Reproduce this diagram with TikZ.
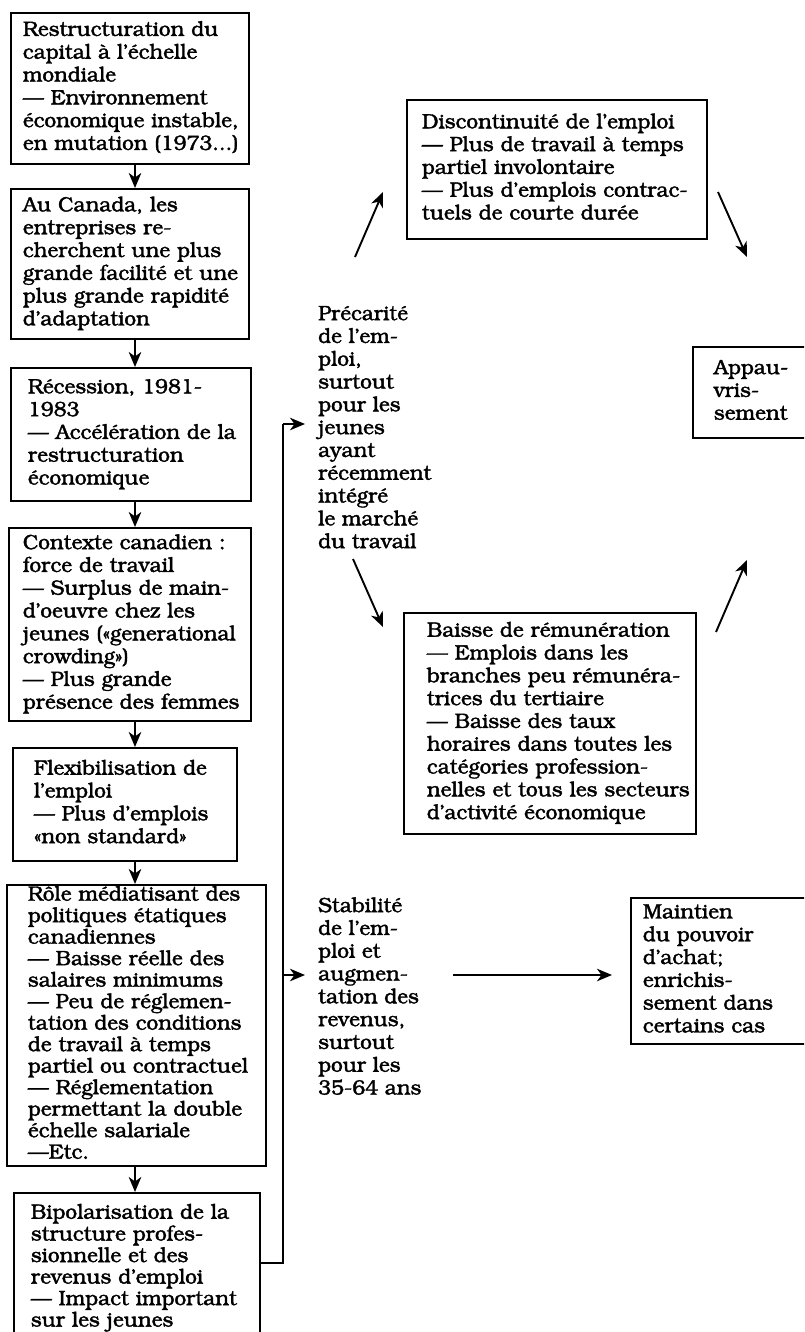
\documentclass[tikz,border=0pt]{standalone}
\usepackage[T1]{fontenc}
\usepackage{bookman}
\usetikzlibrary{arrows.meta}
\newcommand\mytab[1]{\begin{tabular}{@{}l@{}}#1\end{tabular}}
\newcommand\heavy{\special{pdf:literal 2 Tr 0.35 w}}
\tikzset{
  txt/.style={font=\fontsize{20.8}{22.8}\selectfont\heavy},
  tight/.style={font=\fontsize{20.8}{21.5}\selectfont\heavy},
  box/.style={draw, line width=1.8pt, inner ysep=0pt, anchor=north west, align=left},
  free/.style={inner sep=0pt, anchor=north west, align=left},
  conn/.style={line width=1.9pt},
  arr/.style={line width=1.9pt, -{Stealth[length=15pt,width=12.5pt,inset=4.5pt]}},
}
\begin{document}
\begin{tikzpicture}[x=1pt,y=-1pt]
\clip (0,0) rectangle (804,1332);
\fill[white] (0,0) rectangle (804,1332);

% left column
\node[box,txt,text width=214pt,inner xsep=12pt,minimum height=151pt] (b1) at (10,12)
 {\mytab{Restructuration du\\ capital \`a l'\'echelle\\ mondiale\\ --- Environnement\\ \'economique instable,\\ en mutation (1973...)}};
\node[box,txt,text width=214pt,inner xsep=12pt,minimum height=150pt] (b2) at (10,188)
 {\mytab{Au Canada, les\\ entreprises re-\\ cherchent une plus\\ grande facilit\'e et une\\ plus grande rapidit\'e\\ d'adaptation}};
\node[box,txt,text width=206pt,inner xsep=17pt,minimum height=133pt] (b3) at (10,367)
 {\mytab{R\'ecession, 1981-\\ 1983\\ --- Acc\'el\'eration de la\\ restructuration\\ \'economique}};
\node[box,txt,text width=214pt,inner xsep=14pt,minimum height=193pt] (b4) at (8,527)
 {\mytab{Contexte canadien :\\ force de travail\\ --- Surplus de main-\\ d'oeuvre chez les\\ jeunes (\guillemotleft generational\\ crowding\guillemotright)\\ --- Plus grande\\ pr\'esence des femmes}};
\node[box,txt,text width=182pt,inner xsep=21pt,minimum height=113pt] (b5) at (12,747)
 {\mytab{Flexibilisation de\\ l'emploi\\ --- Plus d'emplois\\ \guillemotleft non standard\guillemotright}};
\node[box,tight,text width=217pt,inner xsep=21pt,minimum height=281pt] (b6) at (6,884)
 {\mytab{R\^ole m\'ediatisant des\\ politiques \'etatiques\\ canadiennes\\ --- Baisse r\'eelle des\\ salaires minimums\\ --- Peu de r\'eglemen-\\ tation des conditions\\ de travail \`a temps\\ partiel ou contractuel\\ --- R\'eglementation\\ permettant la double\\ \'echelle salariale\\ ---Etc.}};
\node[box,tight,text width=212pt,inner xsep=17pt,minimum height=151pt] (b7) at (13,1192)
 {\mytab{Bipolarisation de la\\ structure profes-\\ sionnelle et des\\ revenus d'emploi\\ --- Impact important\\ sur les jeunes}};

% middle texts
\node[free,txt] (prec) at (318,304)
 {\mytab{Pr\'ecarit\'e\\ de l'em-\\ ploi,\\ surtout\\ pour les\\ jeunes\\ ayant\\ r\'ecemment\\ int\'egr\'e\\ le march\'e\\ du travail}};
\node[free,txt] (stab) at (318,896)
 {\mytab{Stabilit\'e\\ de l'em-\\ ploi et\\ augmen-\\ tation des\\ revenus,\\ surtout\\ pour les\\ 35-64 ans}};

% right boxes
\node[box,txt,text width=270pt,inner xsep=15pt,minimum height=139pt] (disc) at (406,99)
 {\mytab{Discontinuit\'e de l'emploi\\ --- Plus de travail \`a temps\\ partiel involontaire\\ --- Plus d'emplois contrac-\\ tuels de courte dur\'ee}};
\node[box,txt,text width=246pt,inner xsep=23pt,minimum height=221pt] (baisse) at (403,612)
 {\mytab{Baisse de r\'emun\'eration\\ --- Emplois dans les\\ branches peu r\'emun\'era-\\ trices du tertiaire\\ --- Baisse des taux\\ horaires dans toutes les\\ cat\'egories profession-\\ nelles et tous les secteurs\\ d'activit\'e \'economique}};
\node[box,txt,text width=88pt,inner xsep=21pt,minimum height=91pt] (appau) at (692,346)
 {\mytab{Appau-\\ vris-\\ sement}};
\node[box,txt,text width=166pt,inner xsep=12pt,minimum height=146pt] (maint) at (630,897)
 {\mytab{Maintien\\ du pouvoir\\ d'achat;\\ enrichis-\\ sement dans\\ certains cas}};

% down arrows of the left column
\coordinate (ax) at (135,0);
\draw[arr] (b1.south -| ax) -- (b2.north -| ax);
\draw[arr] (b2.south -| ax) -- (b3.north -| ax);
\draw[arr] (b3.south -| ax) -- (b4.north -| ax);
\draw[arr] (b4.south -| ax) -- (b5.north -| ax);
\draw[arr] (b5.south -| ax) -- (b6.north -| ax);
\draw[arr] (b6.south -| ax) -- (b7.north -| ax);

% feedback connector
\coordinate (ctop) at (283,424);
\coordinate (cmid) at (283,975);
\coordinate (ptip) at (305,424);
\coordinate (stip) at (305,975);
\draw[conn] (b7.east |- 0,1263) -- (283,1263) -- (ctop);
\draw[arr] (ctop) -- (ptip);
\draw[arr] (cmid) -- (stip);

% diagonal arrows
\coordinate (pd1) at (355,257); \coordinate (pd2) at (383,192);
\coordinate (pb1) at (353,559); \coordinate (pb2) at (383,627);
\coordinate (da1) at (718,192); \coordinate (da2) at (747,257);
\coordinate (ba1) at (716,632); \coordinate (ba2) at (747,560);
\draw[arr] (pd1) -- (pd2);
\draw[arr] (pb1) -- (pb2);
\draw[arr] (da1) -- (da2);
\draw[arr] (ba1) -- (ba2);

% stability to purchasing power
\coordinate (sm1) at (453,975);
\draw[arr,shorten >=18pt] (sm1) -- (maint.west |- sm1);
\end{tikzpicture}
\end{document}
